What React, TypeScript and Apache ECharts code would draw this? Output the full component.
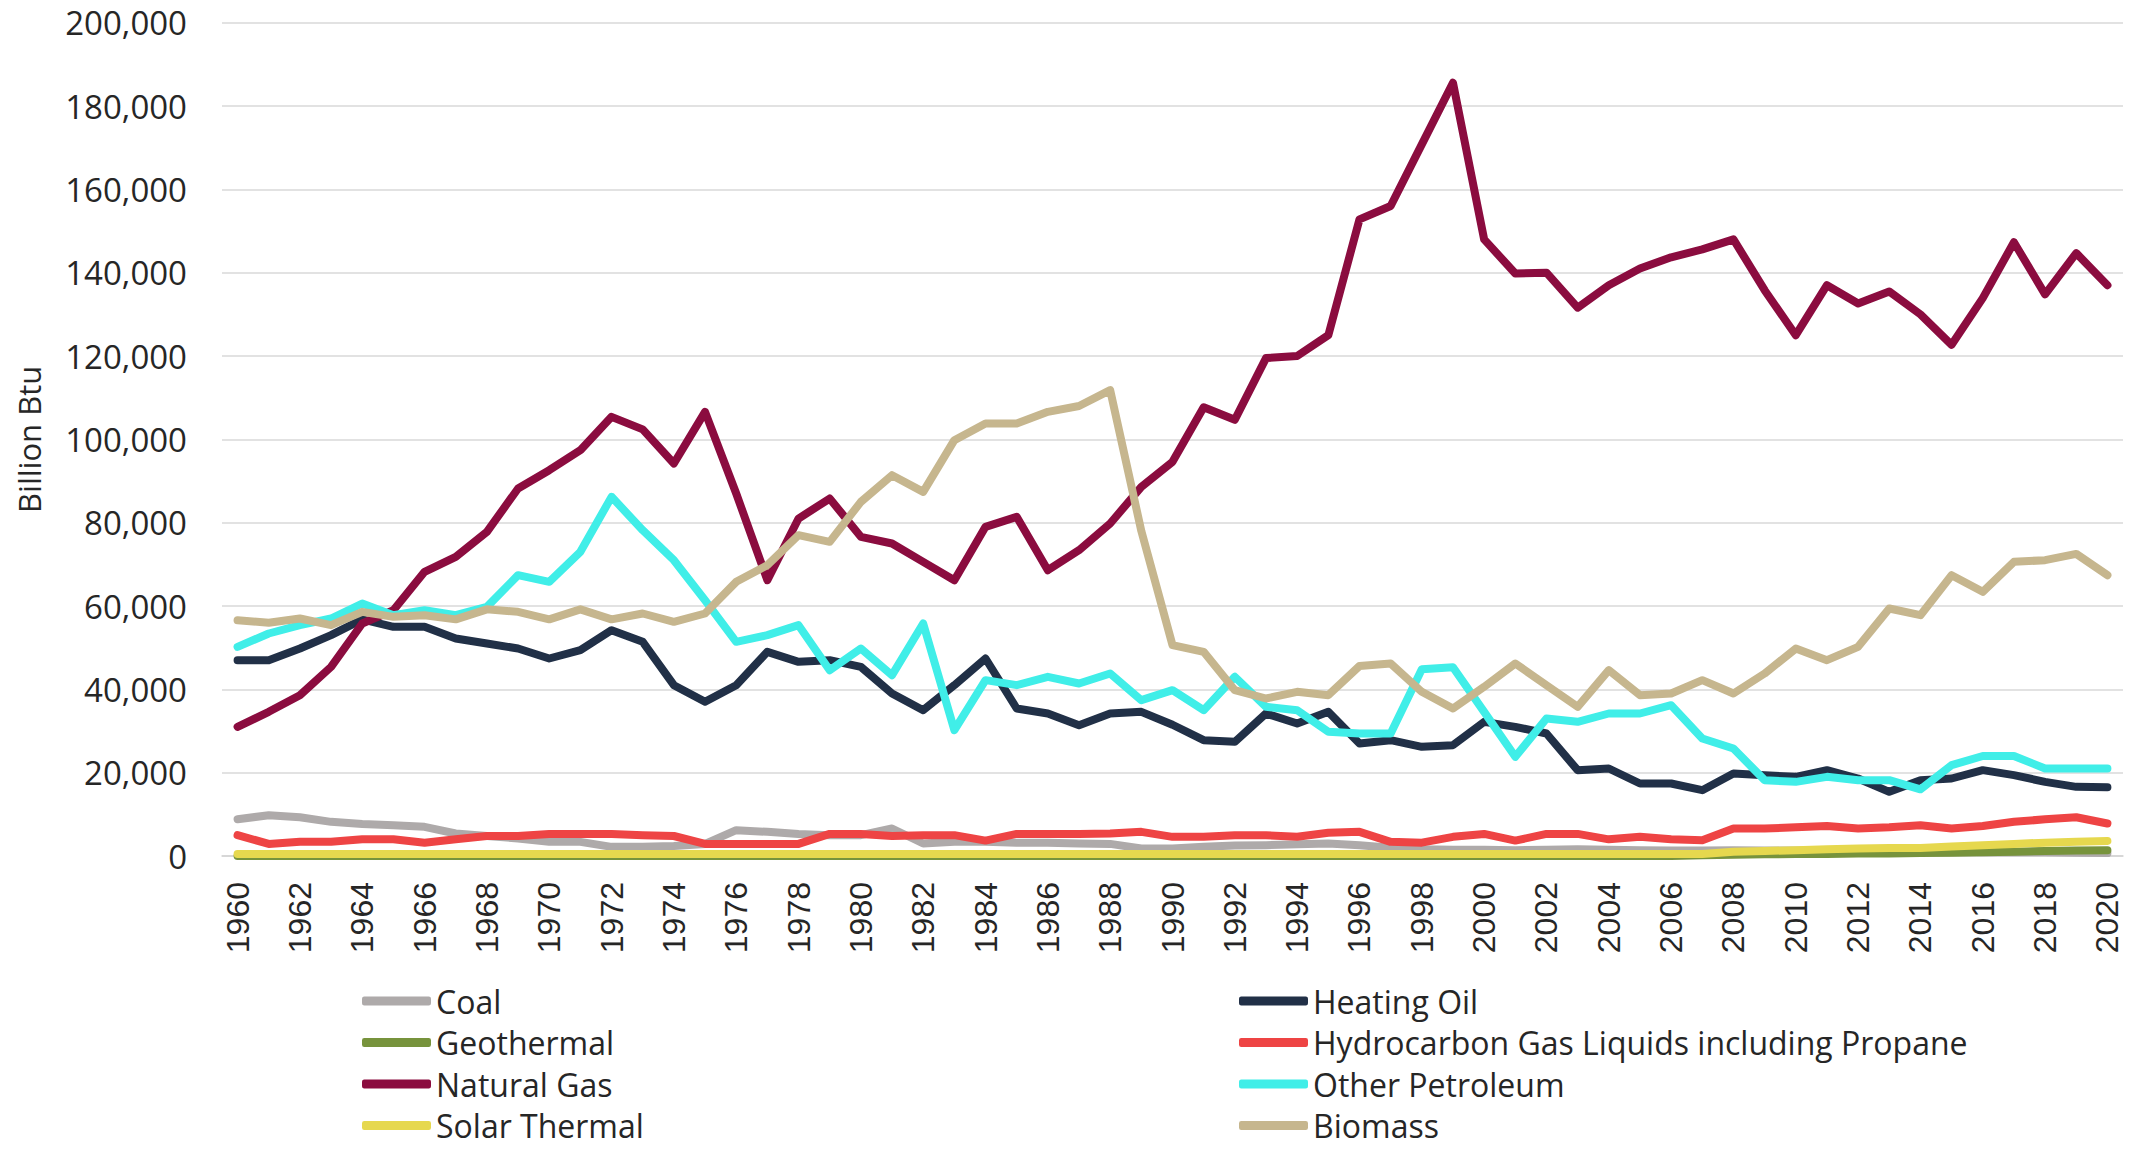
import React, { useEffect, useRef } from "react";
import * as echarts from "echarts";

const years = [
  "1960", "1961", "1962", "1963", "1964", "1965", "1966", "1967", "1968", "1969",
  "1970", "1971", "1972", "1973", "1974", "1975", "1976", "1977", "1978", "1979",
  "1980", "1981", "1982", "1983", "1984", "1985", "1986", "1987", "1988", "1989",
  "1990", "1991", "1992", "1993", "1994", "1995", "1996", "1997", "1998", "1999",
  "2000", "2001", "2002", "2003", "2004", "2005", "2006", "2007", "2008", "2009",
  "2010", "2011", "2012", "2013", "2014", "2015", "2016", "2017", "2018", "2019", "2020",
];

const coal = [
  8800, 9800, 9300, 8200, 7700, 7400, 7000, 5400, 4800, 4200,
  3400, 3400, 2200, 2200, 2400, 2900, 6200, 5800, 5300, 5000,
  5000, 6600, 3000, 3400, 3400, 3200, 3200, 3000, 2900, 1800,
  1800, 2200, 2500, 2600, 2800, 3000, 2600, 2000, 1600, 1500,
  1500, 1400, 1500, 1600, 1500, 1400, 1300, 1300, 1400, 1300,
  1300, 1300, 1200, 1400, 1500, 1200, 900, 900, 900, 800, 700,
];

const heatingOil = [
  47000, 47000, 49800, 53000, 56800, 55000, 55000, 52200, 51000, 49800,
  47400, 49400, 54200, 51400, 41000, 37000, 41000, 49000, 46600, 47000,
  45400, 39000, 35000, 41000, 47400, 35400, 34200, 31400, 34200, 34600,
  31500, 27800, 27400, 34200, 31800, 34600, 27000, 27800, 26200, 26600,
  32200, 31000, 29400, 20600, 21000, 17400, 17400, 15800, 19800, 19400,
  19000, 20600, 18600, 15400, 18200, 18600, 20600, 19400, 17800, 16600, 16500,
];

const geothermal = [
  0, 0, 0, 0, 0, 0, 0, 0, 0, 0,
  0, 0, 0, 0, 0, 0, 0, 0, 0, 0,
  0, 0, 0, 0, 0, 0, 0, 0, 0, 0,
  0, 0, 0, 0, 0, 0, 0, 0, 0, 0,
  0, 0, 0, 0, 0, 0, 0, 200, 300, 400,
  500, 500, 600, 600, 700, 800, 900, 1000, 1200, 1300, 1400,
];

const hydrocarbonGasLiquids = [
  5000, 2900, 3400, 3400, 4000, 4000, 3200, 4000, 4800, 4800,
  5300, 5300, 5300, 5000, 4800, 2900, 2900, 2900, 2900, 5300,
  5300, 4800, 5000, 5000, 3700, 5300, 5300, 5300, 5400, 5800,
  4600, 4600, 5000, 5000, 4600, 5600, 5800, 3400, 3200, 4600,
  5300, 3700, 5300, 5300, 4000, 4600, 4000, 3800, 6600, 6600,
  6900, 7200, 6600, 6900, 7400, 6600, 7200, 8200, 8800, 9300, 7800,
];

const naturalGas = [
  31000, 34600, 38600, 45400, 55800, 59000, 68200, 71800, 77800, 88200,
  92600, 97400, 105400, 102400, 94200, 106600, 87000, 66200, 81000, 85800,
  76600, 75000, 70600, 66200, 79000, 81400, 68600, 73400, 79800, 88600,
  94600, 107700, 104700, 119500, 120000, 125000, 152800, 156000, 170800, 185600,
  148000, 139800, 140000, 131600, 137000, 141000, 143700, 145600, 148000, 135800,
  125000, 137000, 132600, 135500, 130000, 122700, 133900, 147300, 134800, 144700, 137000,
];

const otherPetroleum = [
  50200, 53400, 55400, 57000, 60600, 57800, 59000, 57800, 59800, 67400,
  65800, 73000, 86200, 78200, 71000, 61400, 51400, 53000, 55400, 44600,
  49800, 43400, 55800, 30200, 42200, 41000, 43000, 41400, 43800, 37400,
  39800, 35000, 43000, 35800, 35000, 29800, 29400, 29400, 44800, 45300,
  34600, 23800, 33000, 32200, 34200, 34200, 36200, 28200, 25800, 18200,
  17800, 19000, 18200, 18200, 16000, 21800, 24000, 24000, 21000, 21000, 21000,
];

const solarThermal = [
  500, 500, 500, 500, 500, 500, 500, 500, 500, 500,
  500, 500, 500, 500, 500, 500, 500, 500, 500, 500,
  500, 500, 500, 500, 500, 500, 500, 500, 500, 500,
  500, 500, 500, 500, 500, 500, 500, 500, 500, 500,
  500, 500, 500, 500, 500, 500, 500, 500, 1000, 1200,
  1400, 1600, 1800, 1900, 1900, 2300, 2600, 2900, 3200, 3400, 3600,
];

const biomass = [
  56600, 56000, 57000, 55400, 58600, 57400, 57800, 56800, 59200, 58600,
  56800, 59200, 56800, 58200, 56200, 58200, 65800, 69800, 77000, 75400,
  85000, 91400, 87400, 99800, 103800, 103800, 106600, 108000, 111800, 78000,
  50600, 49000, 39800, 37800, 39400, 38600, 45600, 46200, 39400, 35400,
  40600, 46200, 41000, 35800, 44600, 38600, 39000, 42200, 39000, 43800,
  49800, 47000, 50200, 59400, 57800, 67400, 63400, 70600, 71000, 72500, 67400,
];

const seriesNames = [
  "Coal",
  "Heating Oil",
  "Geothermal",
  "Hydrocarbon Gas Liquids including Propane",
  "Natural Gas",
  "Other Petroleum",
  "Solar Thermal",
  "Biomass",
];
const seriesData = [coal, heatingOil, geothermal, hydrocarbonGasLiquids, naturalGas, otherPetroleum, solarThermal, biomass];
const seriesColors = ["#aeaaaa", "#213047", "#77933c", "#ee4444", "#8b0c3f", "#40eee8", "#e6d84e", "#c6b68e"];

const leftLegend = ["Coal", "Geothermal", "Natural Gas", "Solar Thermal"];
const rightLegend = ["Heating Oil", "Hydrocarbon Gas Liquids including Propane", "Other Petroleum", "Biomass"];

const UI_FONT = "'Open Sans', 'Noto Sans', sans-serif";
const TEXT = "#262626";

export default function App() {
  const ref = useRef<HTMLDivElement>(null);

  useEffect(() => {
    if (!ref.current) return;
    const chart = echarts.init(ref.current, null, { renderer: "svg" });
    const legendCommon = {
      orient: "vertical" as const,
      top: 985,
      height: 160,
      padding: 0,
      itemGap: 9.5,
      itemWidth: 69,
      itemHeight: 9,
      icon: "roundRect",
      selectedMode: false,
      textStyle: { fontFamily: UI_FONT, fontSize: 32, color: TEXT, lineHeight: 32 },
    };
    chart.setOption({
      animation: false,
      backgroundColor: "#ffffff",
      grid: { left: 222, right: 16, top: 22.7, bottom: 294, containLabel: false },
      legend: [
        { ...legendCommon, left: 362, data: leftLegend },
        { ...legendCommon, left: 1239, data: rightLegend },
      ],
      xAxis: {
        type: "category",
        data: years,
        boundaryGap: true,
        axisTick: { show: false },
        axisLine: { lineStyle: { color: "#d4d4d4", width: 1.5 } },
        axisLabel: {
          interval: 1,
          rotate: 90,
          margin: 26,
          fontFamily: "'Liberation Sans', Arial, sans-serif",
          fontSize: 32,
          color: TEXT,
        },
      },
      yAxis: {
        type: "value",
        min: 0,
        max: 200000,
        interval: 20000,
        name: "Billion Btu",
        nameLocation: "middle",
        nameGap: 178,
        nameTextStyle: { fontFamily: UI_FONT, fontSize: 31, color: TEXT },
        axisLine: { show: false },
        axisTick: { show: false },
        splitLine: { lineStyle: { color: "#d9d9d9", width: 1.5 } },
        axisLabel: {
          margin: 35,
          fontFamily: UI_FONT,
          fontSize: 33,
          color: TEXT,
          formatter: (v: number) => String(v).replace(/\B(?=(\d{3})+(?!\d))/g, ","),
        },
      },
      series: seriesNames.map((name, i) => ({
        name,
        type: "line",
        data: seriesData[i],
        symbol: "none",
        color: seriesColors[i],
        lineStyle: { width: 8, color: seriesColors[i], cap: "round", join: "round" },
        emphasis: { disabled: true },
      })),
    });
    return () => chart.dispose();
  }, []);

  return (
    <div
      ref={ref}
      style={{ position: "absolute", left: 0, top: 0, width: 2139, height: 1150, background: "#fff" }}
    />
  );
}
